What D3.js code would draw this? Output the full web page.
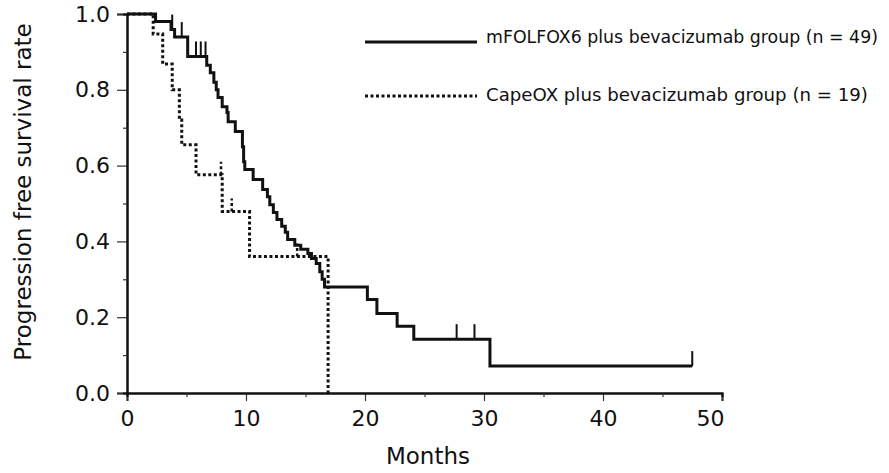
<!DOCTYPE html>
<html><head><meta charset="utf-8">
<script src="https://cdn.jsdelivr.net/npm/d3@7/dist/d3.min.js"></script>
<style>body{margin:0;background:#fff;} svg{display:block;} text{font-family:"DejaVu Sans",Verdana,sans-serif;fill:#111;}</style>
</head><body>
<svg id="c" width="889" height="473"></svg>
<script>
// mFOLFOX6 plus bevacizumab group: event times (months) and survival after each event
const folfoxTimes = [2.4, 3.7, 4.0, 5.1, 6.7, 7.0, 7.3, 7.5, 7.65, 8.0, 8.4, 8.5, 9.1, 9.7, 9.8, 9.9, 10.6, 11.4, 11.8, 12.0, 12.3, 12.6, 13.0, 13.3, 13.5, 14.1, 14.6, 15.2, 15.5, 15.9, 16.2, 16.4, 16.6, 20.2, 21.0, 22.7, 24.1, 30.5];
const folfoxSurv  = [0.98, 0.959, 0.939, 0.888, 0.865, 0.845, 0.82, 0.80, 0.78, 0.755, 0.74, 0.716, 0.69, 0.65, 0.61, 0.59, 0.563, 0.537, 0.518, 0.497, 0.476, 0.458, 0.44, 0.424, 0.405, 0.39, 0.379, 0.368, 0.355, 0.342, 0.32, 0.30, 0.28, 0.247, 0.21, 0.176, 0.142, 0.071];
const folfoxEnd = 47.5;
const folfoxCensorTimes = [3.8, 4.6, 5.8, 6.2, 6.6, 27.7, 29.2, 47.5];
const folfoxCensorSurv  = [0.959, 0.939, 0.888, 0.888, 0.888, 0.142, 0.142, 0.071];

// CapeOX plus bevacizumab group
const capeoxTimes = [2.2, 3.0, 3.8, 4.4, 4.6, 5.8, 8.0, 10.3, 16.9];
const capeoxSurv  = [0.947, 0.868, 0.80, 0.72, 0.655, 0.576, 0.479, 0.36, 0];
const capeoxEnd = 16.9;
const capeoxCensorTimes = [7.9, 8.8, 14.3];
const capeoxCensorSurv  = [0.576, 0.479, 0.36];

const xTicks = [0, 10, 20, 30, 40, 50];
const xMinor = [5, 15, 25, 35, 45];
const yTicks = [0, 0.2, 0.4, 0.6, 0.8, 1.0];
const yMinor = [0.1, 0.3, 0.5, 0.7, 0.9];
const legendLabels = ["mFOLFOX6 plus bevacizumab group (n = 49)", "CapeOX plus bevacizumab group (n = 19)"];

const svg = d3.select("#c");
const x = d3.scaleLinear().domain([0, 50]).range([127, 722]);
const y = d3.scaleLinear().domain([0, 1]).range([393, 14]);

function stepPts(times, surv, end) {
  const pts = [[0, 1]];
  times.forEach((t, i) => pts.push([t, surv[i]]));
  pts.push([end, surv[surv.length - 1]]);
  return pts;
}
const line = d3.line().x(d => x(d[0])).y(d => y(d[1])).curve(d3.curveStepAfter);

// axes
const gy = svg.append("g").attr("transform", `translate(${x(0)},0)`)
  .call(d3.axisLeft(y).tickValues(yTicks).tickSize(10).tickPadding(7).tickFormat(d3.format(".1f")));
const gy2 = svg.append("g").attr("transform", `translate(${x(0)},0)`)
  .call(d3.axisLeft(y).tickValues(yMinor).tickSize(4).tickFormat(""));
const gx = svg.append("g").attr("transform", `translate(0,${y(0)})`)
  .call(d3.axisBottom(x).tickValues(xTicks).tickSize(8).tickPadding(9));
const gx2 = svg.append("g").attr("transform", `translate(0,${y(0)})`)
  .call(d3.axisBottom(x).tickValues(xMinor).tickSize(4).tickFormat(""));
[gy, gy2, gx, gx2].forEach(g => {
  g.selectAll(".domain").attr("stroke", "#111").attr("stroke-width", 2);
  g.selectAll(".tick line").attr("stroke", "#333").attr("stroke-width", 1.2);
  g.selectAll("text").attr("font-size", 22).attr("font-family", "DejaVu Sans").attr("fill", "#111");
});
gx.selectAll(".tick text").filter(d => d === 50).attr("dx", -12);

// curves
svg.append("path").attr("d", line(stepPts(capeoxTimes, capeoxSurv, capeoxEnd)))
  .attr("fill", "none").attr("stroke", "#111").attr("stroke-width", 3).attr("stroke-dasharray", "3,2.5");
svg.append("path").attr("d", line(stepPts(folfoxTimes, folfoxSurv, folfoxEnd)))
  .attr("fill", "none").attr("stroke", "#111").attr("stroke-width", 3);

// censor marks
svg.selectAll(".cf").data(folfoxCensorTimes).enter().append("line")
  .attr("x1", d => x(d)).attr("x2", d => x(d))
  .attr("y1", (d, i) => y(folfoxCensorSurv[i])).attr("y2", (d, i) => y(folfoxCensorSurv[i]) - 15)
  .attr("stroke", "#111").attr("stroke-width", 2);
svg.selectAll(".cc").data(capeoxCensorTimes).enter().append("line")
  .attr("x1", d => x(d)).attr("x2", d => x(d))
  .attr("y1", (d, i) => y(capeoxCensorSurv[i])).attr("y2", (d, i) => y(capeoxCensorSurv[i]) - 13)
  .attr("stroke", "#111").attr("stroke-width", 2.5).attr("stroke-dasharray", "3,2.5");

// axis titles
svg.append("text").attr("transform", `translate(31,192) rotate(-90)`)
  .attr("text-anchor", "middle").attr("font-size", 23).text("Progression free survival rate");
svg.append("text").attr("x", 428).attr("y", 464)
  .attr("text-anchor", "middle").attr("font-size", 23).text("Months");

// legend (font size fitted so each label spans about the reference width)
const leg = svg.append("g");
legendLabels.forEach((lab, i) => {
  const ly = i === 0 ? 42 : 96;
  const ty = i === 0 ? 43 : 101;
  const target = i === 0 ? 392 : 382;
  leg.append("line").attr("x1", 365).attr("x2", 477).attr("y1", ly).attr("y2", ly)
    .attr("stroke", "#111").attr("stroke-width", 3).attr("stroke-dasharray", i === 0 ? null : "3,2.5");
  const t = leg.append("text").attr("x", 486).attr("y", ty).attr("font-size", 20)
    .attr("font-family", "Lato, 'Open Sans', sans-serif").text(lab);
  const w = t.node().getComputedTextLength();
  if (w > 0) t.attr("font-size", Math.min(21, 20 * target / w));
});
</script>
</body></html>
